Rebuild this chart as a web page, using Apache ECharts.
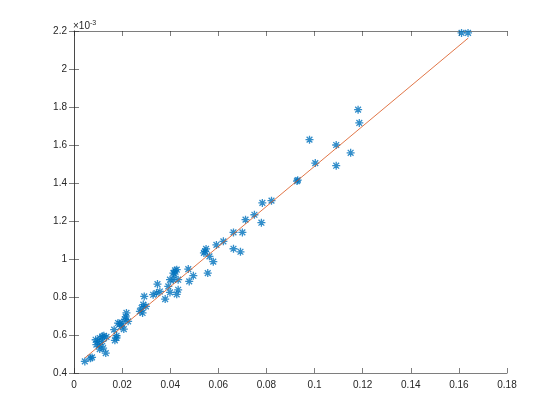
<!DOCTYPE html>
<html>
<head>
<meta charset="utf-8">
<script src="https://cdn.jsdelivr.net/npm/echarts@6/dist/echarts.min.js"></script>
<style>
  html, body { margin: 0; padding: 0; background: #fff; }
  #main { width: 560px; height: 420px; }
</style>
</head>
<body>
<div id="main"></div>
<script>
// measured points (x, y in units of 1e-3)
const xVals = [
  0.0045, 0.0068, 0.0075, 0.0090, 0.0098, 0.0107, 0.0118, 0.0124, 0.0135, 0.0093,
  0.0107, 0.0118, 0.0121, 0.0107, 0.0132, 0.0167, 0.0177, 0.0170, 0.0177, 0.0183,
  0.0190, 0.0200, 0.0195, 0.0207, 0.0218, 0.0215, 0.0212, 0.0225, 0.0274, 0.0281,
  0.0288, 0.0292, 0.0299, 0.0285, 0.0329, 0.0347, 0.0343, 0.0357, 0.0379, 0.0392,
  0.0413, 0.0420, 0.0413, 0.0433, 0.0399, 0.0433, 0.0399, 0.0427, 0.0427, 0.0418,
  0.0475, 0.0496, 0.0479, 0.0549, 0.0540, 0.0545, 0.0563, 0.0579, 0.0556, 0.0592,
  0.0621, 0.0663, 0.0692, 0.0663, 0.0700, 0.0713, 0.0779, 0.0750, 0.0783, 0.0821,
  0.0927, 0.0930, 0.0979, 0.1003, 0.1090, 0.1090, 0.1150, 0.1181, 0.1186, 0.1611,
  0.1638
];
const yVals = [
  0.461, 0.478, 0.482, 0.575, 0.566, 0.584, 0.593, 0.596, 0.590, 0.549,
  0.549, 0.566, 0.531, 0.526, 0.505, 0.628, 0.596, 0.572, 0.585, 0.663,
  0.660, 0.662, 0.645, 0.631, 0.716, 0.695, 0.683, 0.672, 0.724, 0.742,
  0.760, 0.803, 0.751, 0.716, 0.812, 0.868, 0.821, 0.829, 0.789, 0.856,
  0.926, 0.940, 0.890, 0.891, 0.891, 0.838, 0.824, 0.814, 0.944, 0.920,
  0.947, 0.912, 0.882, 1.053, 1.032, 1.040, 1.014, 0.986, 0.926, 1.074,
  1.093, 1.140, 1.038, 1.054, 1.140, 1.207, 1.191, 1.233, 1.295, 1.307,
  1.410, 1.415, 1.628, 1.505, 1.600, 1.491, 1.559, 1.786, 1.716, 2.190,
  2.190
];
// fitted line end points
const fitX = [0.0045, 0.1639];
const fitY = [0.479, 2.163];

const xTicks = { min: 0, max: 0.18, step: 0.02 };
const yTicks = { min: 0.4, max: 2.2, step: 0.2 };

const axisColor = '#262626';
const fmt = v => String(parseFloat(v.toFixed(4)));

const star = 'path://M0,-5L0,5M-5,0L5,0M-3.6,-3.6L3.6,3.6M-3.6,3.6L3.6,-3.6';

const baseAxis = {
  axisLine: { show: true, lineStyle: { color: axisColor, width: 0.6 } },
  axisTick: { show: true, inside: true, length: 5, lineStyle: { color: axisColor, width: 0.6 } },
  splitLine: { show: false },
  axisLabel: { color: axisColor, fontFamily: 'Liberation Sans', fontSize: 10, formatter: fmt }
};

const chart = echarts.init(document.getElementById('main'), null, { renderer: 'canvas' });
chart.setOption({
  animation: false,
  backgroundColor: '#fff',
  grid: { left: 74, right: 53, top: 31, bottom: 47 },
  xAxis: [
    Object.assign({}, baseAxis, {
      type: 'value', position: 'bottom', min: xTicks.min, max: xTicks.max, interval: xTicks.step,
      axisLabel: Object.assign({}, baseAxis.axisLabel, { margin: 7 })
    }),
    Object.assign({}, baseAxis, {
      type: 'value', position: 'top', min: xTicks.min, max: xTicks.max, interval: xTicks.step,
      axisLabel: { show: false }
    })
  ],
  yAxis: [
    Object.assign({}, baseAxis, {
      type: 'value', position: 'left', min: yTicks.min, max: yTicks.max, interval: yTicks.step,
      axisLabel: Object.assign({}, baseAxis.axisLabel, { margin: 7 })
    }),
    Object.assign({}, baseAxis, {
      type: 'value', position: 'right', min: yTicks.min, max: yTicks.max, interval: yTicks.step,
      axisLabel: { show: false }
    })
  ],
  graphic: [{
    type: 'text', left: 73, top: 20,
    style: {
      text: '×10{s|-3}',
      rich: { s: { fontSize: 7, verticalAlign: 'top', padding: [0, 0, 6, 0], fill: axisColor } },
      fill: axisColor, font: '10px "Liberation Sans"'
    }
  }],
  series: [
    {
      type: 'scatter',
      data: xVals.map((x, i) => [x, yVals[i]]),
      symbol: star,
      symbolSize: 8,
      itemStyle: { color: 'none', borderColor: '#0072BD', borderWidth: 1.3 },
      z: 3
    },
    {
      type: 'line',
      data: fitX.map((x, i) => [x, fitY[i]]),
      symbol: 'none',
      lineStyle: { color: '#D95319', width: 0.8 },
      z: 4
    }
  ]
});
</script>
</body>
</html>
